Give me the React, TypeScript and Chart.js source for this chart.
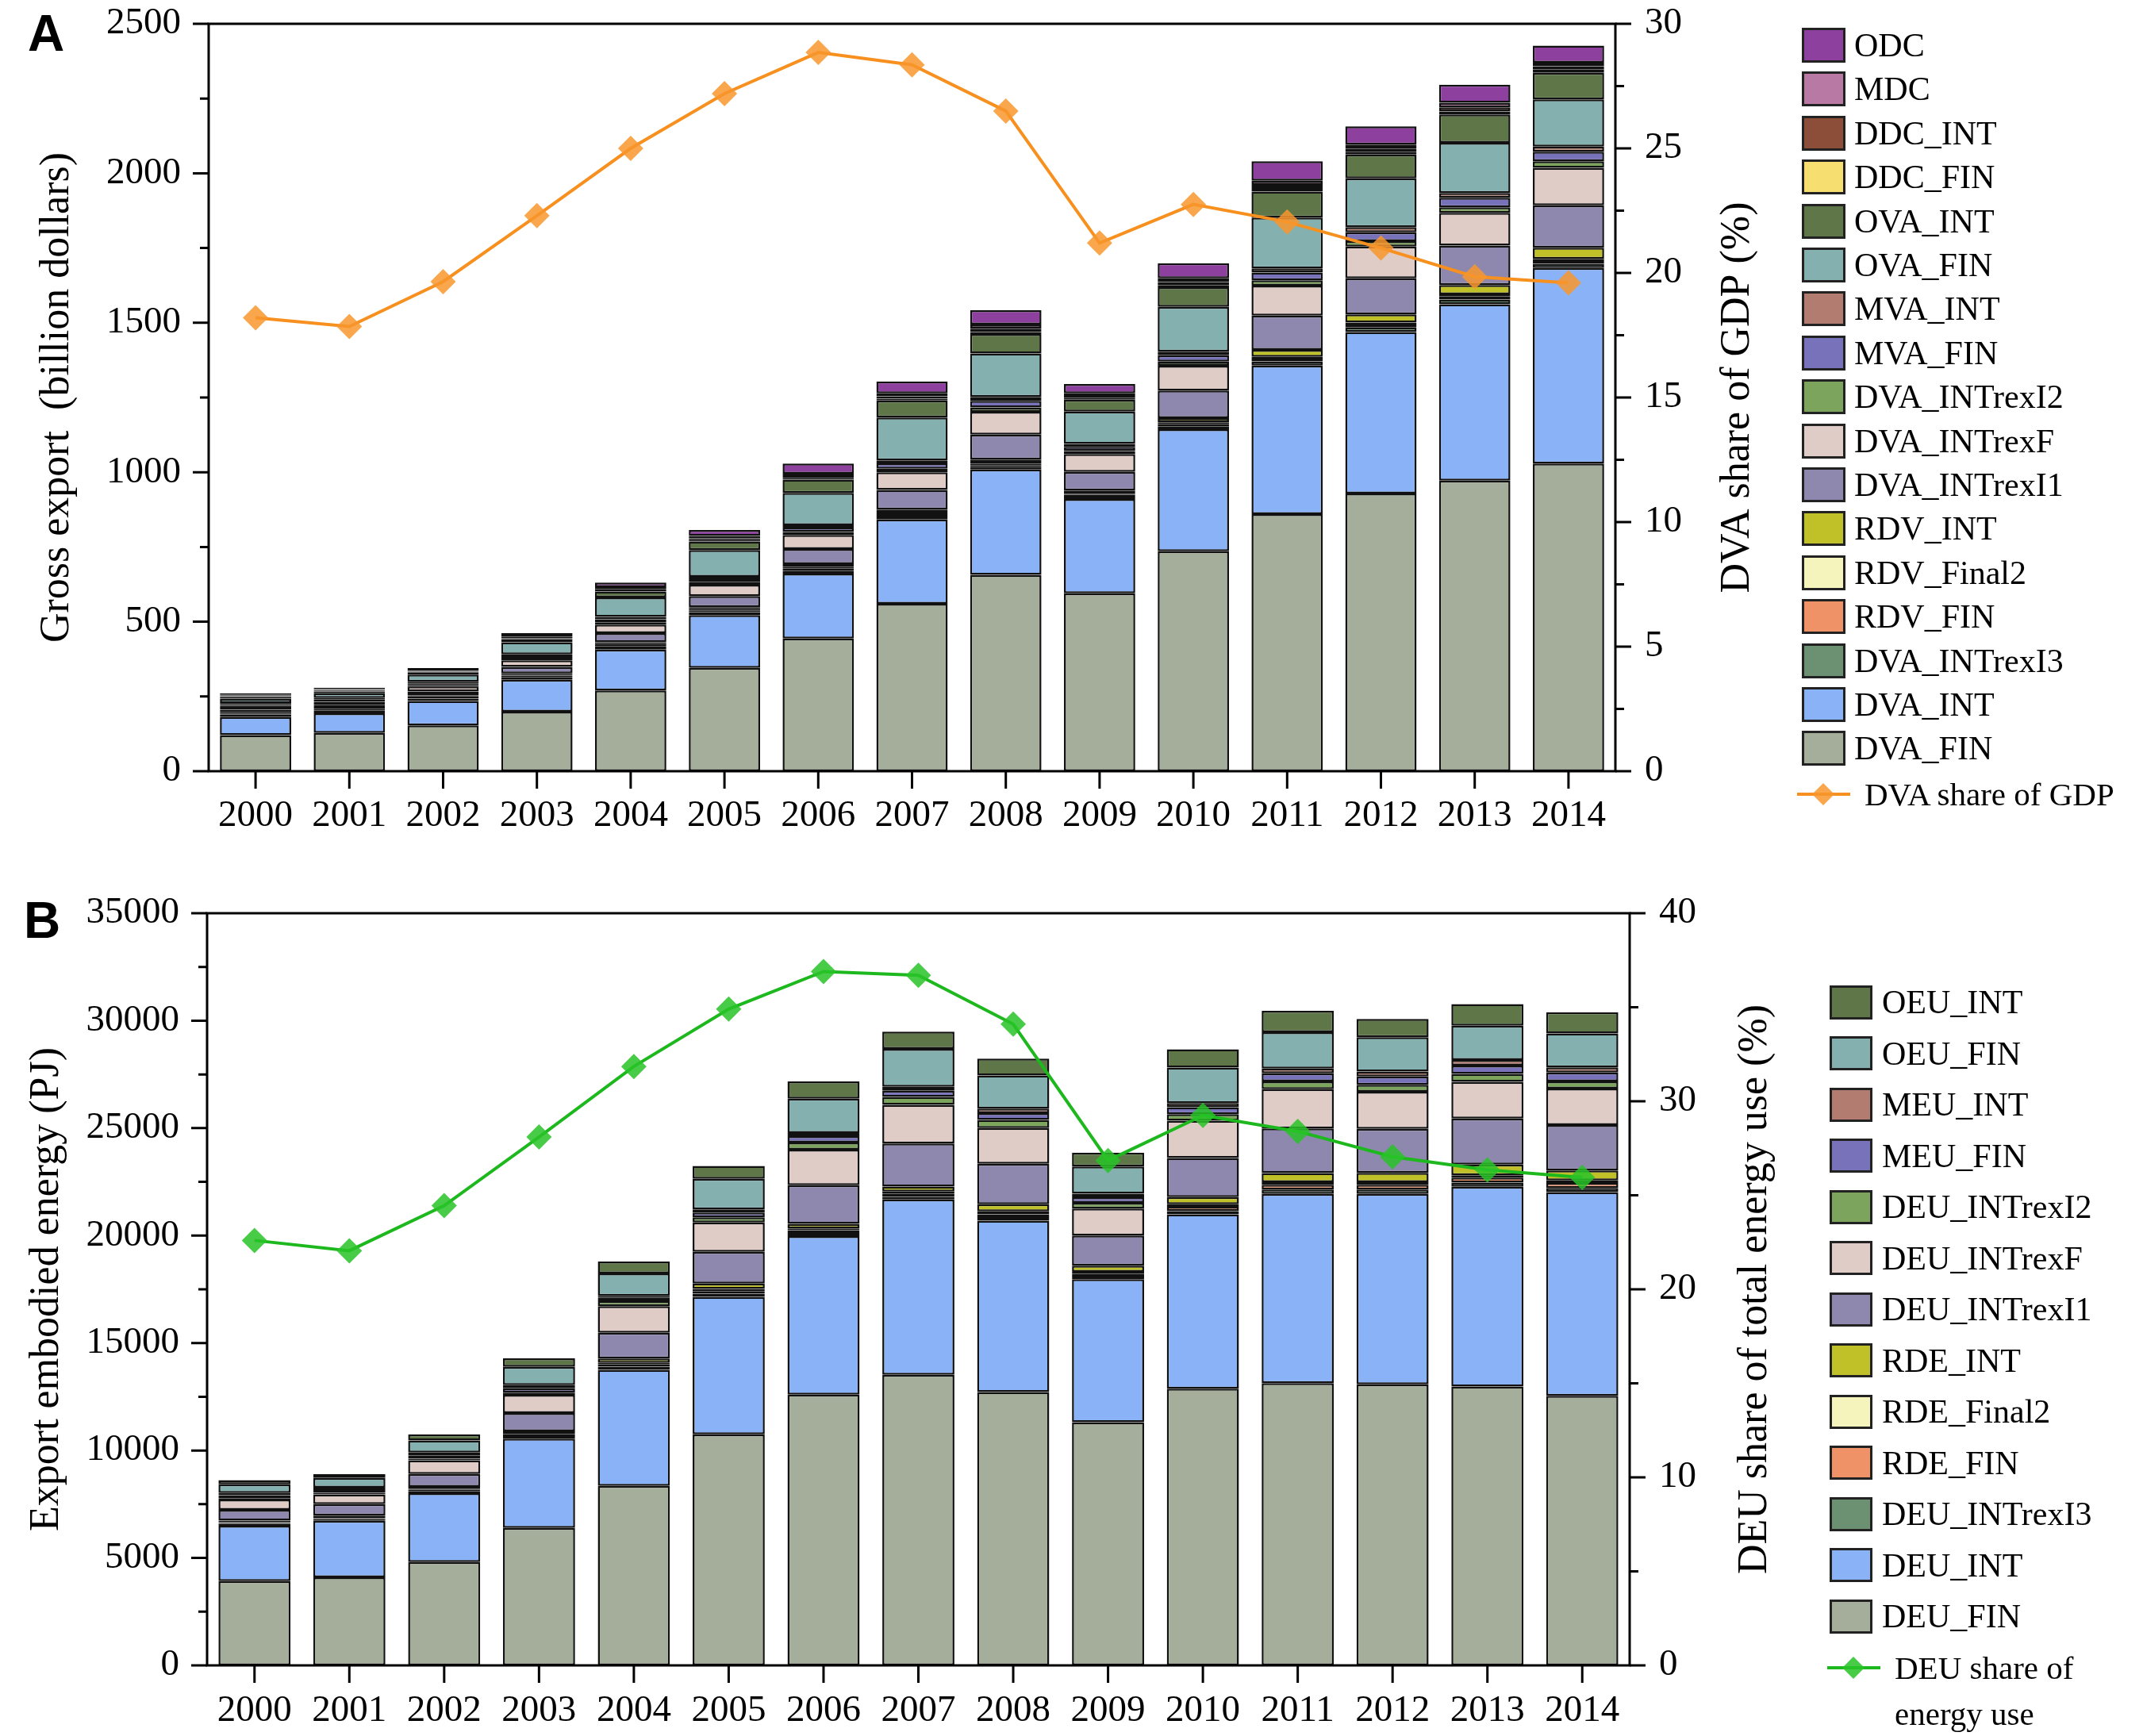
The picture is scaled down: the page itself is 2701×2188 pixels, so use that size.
import React, { useEffect, useRef } from 'react';
import { Chart, registerables } from 'chart.js';

Chart.register(...registerables);

const FONT = '"Liberation Serif", "Times New Roman", serif';

const years = ['2000', '2001', '2002', '2003', '2004', '2005', '2006', '2007', '2008', '2009', '2010', '2011', '2012', '2013', '2014'];

// ---------- Panel A (billion dollars) ----------
const dvaFin = [121, 128, 153, 199, 270, 346, 444, 560, 657, 595, 736, 860, 929, 972, 1029];
const dvaInt = [60, 66, 82, 107, 137, 176, 217, 282, 352, 315, 408, 497, 540, 590, 654];
const dvaIntrexI3 = [8, 10, 8, 8, 10, 10, 10, 10, 8, 8, 10, 14, 15, 16, 14];
const rdvFin = [3, 3, 4, 5, 5, 6, 8, 8, 7, 6, 8, 9, 10, 10, 12];
const rdvFinal2 = [2, 2, 3, 3, 3, 4, 5, 5, 5, 4, 5, 6, 7, 7, 5];
const rdvInt = [3, 3, 4, 5, 6, 7, 9, 10, 13, 11, 14, 23, 27, 31, 37];
const dvaIntrexI1 = [9, 10, 13, 22, 31, 37, 50, 66, 84, 62, 92, 115, 121, 132, 142];
const dvaIntrexF = [9, 10, 16, 22, 28, 38, 47, 59, 76, 60, 83, 100, 106, 110, 125];
const dvaIntrexI2 = [4, 4, 5, 6, 8, 8, 10, 12, 15, 10, 14, 18, 18, 18, 22];
const mvaFin = [5, 5, 6, 8, 10, 10, 15, 18, 22, 14, 21, 26, 30, 32, 32];
const mvaInt = [4, 4, 5, 6, 8, 8, 8, 10, 13, 10, 12, 14, 17, 16, 17];
const ovaFin = [15, 16, 24, 40, 65, 90, 108, 143, 145, 108, 150, 170, 163, 168, 158];
const ovaInt = [6, 6, 8, 11, 20, 28, 44, 57, 65, 40, 66, 87, 80, 95, 89];
const ddcFin = [2, 2, 2, 3, 4, 5, 5, 6, 7, 5, 7, 9, 8, 10, 11];
const ddcInt = [3, 3, 3, 4, 5, 6, 7, 8, 11, 7, 10, 13, 12, 14, 11];
const mdc = [3, 3, 4, 5, 6, 8, 8, 10, 14, 9, 13, 14, 13, 15, 12];
const odc = [4, 4, 5, 8, 15, 20, 34, 40, 48, 31, 50, 65, 61, 60, 57];
const dvaShareGdp = [18.2, 17.85, 19.65, 22.3, 25.0, 27.2, 28.85, 28.35, 26.5, 21.2, 22.75, 22.05, 21.0, 19.85, 19.6];

// ---------- Panel B (PJ) ----------
const deuFin = [3920, 4100, 4810, 6400, 8350, 10750, 12600, 13520, 12720, 11320, 12880, 13130, 13080, 12980, 12540];
const deuInt = [2580, 2630, 3200, 4150, 5400, 6400, 7370, 8160, 7970, 6650, 8110, 8810, 8860, 9290, 9480];
const deuIntrexI3 = [80, 80, 100, 80, 150, 150, 150, 120, 130, 120, 150, 200, 200, 200, 200];
const rdeFin = [50, 50, 60, 80, 100, 120, 130, 160, 170, 140, 200, 220, 220, 230, 230];
const rdeFinal2 = [40, 40, 50, 60, 80, 100, 80, 90, 140, 80, 120, 120, 120, 110, 120];
const rdeInt = [70, 70, 90, 120, 200, 250, 220, 230, 330, 290, 330, 430, 440, 500, 460];
const deuIntrexI1 = [500, 530, 600, 850, 1200, 1470, 1800, 2000, 1880, 1400, 1820, 2080, 2050, 2140, 2110];
const deuIntrexF = [475, 460, 630, 850, 1240, 1370, 1650, 1800, 1660, 1260, 1740, 1820, 1720, 1700, 1700];
const deuIntrexI2 = [70, 70, 80, 100, 230, 240, 330, 370, 380, 260, 300, 360, 330, 370, 330];
const meuFin = [130, 130, 150, 200, 150, 220, 300, 290, 320, 260, 320, 380, 380, 390, 420];
const meuInt = [110, 110, 130, 150, 100, 150, 140, 180, 210, 170, 200, 220, 230, 260, 240];
const oeuFin = [400, 450, 570, 850, 1040, 1420, 1600, 1770, 1540, 1260, 1650, 1690, 1600, 1600, 1580];
const oeuInt = [200, 180, 280, 400, 550, 600, 800, 800, 780, 650, 850, 1000, 850, 1000, 980];
const deuShareEnergy = [22.6, 22.05, 24.45, 28.1, 31.85, 34.9, 36.9, 36.7, 34.1, 26.85, 29.25, 28.4, 27.05, 26.35, 25.95];

type Series = { label: string; data: number[]; color: string };

const seriesA: Series[] = [
  { label: 'DVA_FIN', data: dvaFin, color: '#A4AE9A' },
  { label: 'DVA_INT', data: dvaInt, color: '#8AB2F6' },
  { label: 'DVA_INTrexI3', data: dvaIntrexI3, color: '#6C9072' },
  { label: 'RDV_FIN', data: rdvFin, color: '#F09268' },
  { label: 'RDV_Final2', data: rdvFinal2, color: '#F4F4BC' },
  { label: 'RDV_INT', data: rdvInt, color: '#C0C028' },
  { label: 'DVA_INTrexI1', data: dvaIntrexI1, color: '#8E88AE' },
  { label: 'DVA_INTrexF', data: dvaIntrexF, color: '#E0CCC6' },
  { label: 'DVA_INTrexI2', data: dvaIntrexI2, color: '#7CA45C' },
  { label: 'MVA_FIN', data: mvaFin, color: '#7872BA' },
  { label: 'MVA_INT', data: mvaInt, color: '#B27C70' },
  { label: 'OVA_FIN', data: ovaFin, color: '#84B0B0' },
  { label: 'OVA_INT', data: ovaInt, color: '#5E7648' },
  { label: 'DDC_FIN', data: ddcFin, color: '#F6DF70' },
  { label: 'DDC_INT', data: ddcInt, color: '#8C4E38' },
  { label: 'MDC', data: mdc, color: '#B87AA4' },
  { label: 'ODC', data: odc, color: '#8E409E' },
];

const seriesB: Series[] = [
  { label: 'DEU_FIN', data: deuFin, color: '#A4AE9A' },
  { label: 'DEU_INT', data: deuInt, color: '#8AB2F6' },
  { label: 'DEU_INTrexI3', data: deuIntrexI3, color: '#6C9072' },
  { label: 'RDE_FIN', data: rdeFin, color: '#F09268' },
  { label: 'RDE_Final2', data: rdeFinal2, color: '#F4F4BC' },
  { label: 'RDE_INT', data: rdeInt, color: '#C0C028' },
  { label: 'DEU_INTrexI1', data: deuIntrexI1, color: '#8E88AE' },
  { label: 'DEU_INTrexF', data: deuIntrexF, color: '#E0CCC6' },
  { label: 'DEU_INTrexI2', data: deuIntrexI2, color: '#7CA45C' },
  { label: 'MEU_FIN', data: meuFin, color: '#7872BA' },
  { label: 'MEU_INT', data: meuInt, color: '#B27C70' },
  { label: 'OEU_FIN', data: oeuFin, color: '#84B0B0' },
  { label: 'OEU_INT', data: oeuInt, color: '#5E7648' },
];

interface PanelSpec {
  series: Series[];
  lineLabel: string;
  lineData: number[];
  lineColor: string;
  pointColor: string;
  yMax: number;
  yStep: number;
  yMinor: number;
  y1Max: number;
  y1Step: number;
  y1Minor: number;
  leftTitle: string;
  leftTitlePad: number;
  leftWidth: number;
  rightTitle: string;
  rightTitleOffset: number;
  padTop: number;
  padRight: number;
  padBottom: number;
  xHeight: number;
  xPad: number;
  width: number;
  height: number;
}

const specA: PanelSpec = {
  series: seriesA,
  lineLabel: 'DVA share of GDP',
  lineData: dvaShareGdp,
  lineColor: '#F7901E',
  pointColor: 'rgba(248,150,45,0.85)',
  yMax: 2500, yStep: 500, yMinor: 250,
  y1Max: 30, y1Step: 5, y1Minor: 2.5,
  leftTitle: 'Gross export  (billion dollars)',
  leftTitlePad: 41, leftWidth: 263,
  rightTitle: 'DVA share of GDP (%)',
  rightTitleOffset: 154,
  padTop: 30, padRight: 475, padBottom: 18, xHeight: 100, xPad: 28,
  width: 2701, height: 1090,
};

const specB: PanelSpec = {
  series: seriesB,
  lineLabel: 'DEU share of energy use',
  lineData: deuShareEnergy,
  lineColor: '#1DB81D',
  pointColor: 'rgba(40,195,40,0.85)',
  yMax: 35000, yStep: 5000, yMinor: 2500,
  y1Max: 40, y1Step: 10, y1Minor: 5,
  leftTitle: 'Export embodied energy (PJ)',
  leftTitlePad: 28, leftWidth: 261,
  rightTitle: 'DEU share of total energy use (%)',
  rightTitleOffset: 158,
  padTop: 61, padRight: 457, padBottom: 9, xHeight: 80, xPad: 29,
  width: 2701, height: 1098,
};

function framePlugin(s: PanelSpec) {
  return {
    id: 'frameTicks',
    afterDraw(chart: any) {
      const { ctx, chartArea } = chart;
      const { left, right, top, bottom } = chartArea;
      const ys = chart.scales.y;
      const y1s = chart.scales.y1;
      const xs = chart.scales.x;
      ctx.save();
      ctx.strokeStyle = '#000';
      ctx.lineWidth = 3;
      ctx.lineCap = 'butt';
      ctx.beginPath();
      const nL = Math.round(s.yMax / s.yMinor);
      const perL = Math.round(s.yStep / s.yMinor);
      for (let i = 0; i <= nL; i++) {
        const py = ys.getPixelForValue(i * s.yMinor);
        const len = i % perL === 0 ? 20 : 11;
        ctx.moveTo(left - len, py);
        ctx.lineTo(left, py);
      }
      const nR = Math.round(s.y1Max / s.y1Minor);
      const perR = Math.round(s.y1Step / s.y1Minor);
      for (let i = 0; i <= nR; i++) {
        const py = y1s.getPixelForValue(i * s.y1Minor);
        const len = i % perR === 0 ? 20 : 11;
        ctx.moveTo(right, py);
        ctx.lineTo(right + len, py);
      }
      for (let i = 0; i < years.length; i++) {
        const px = xs.getPixelForValue(i);
        ctx.moveTo(px, bottom);
        ctx.lineTo(px, bottom + 22);
      }
      ctx.stroke();
      ctx.strokeRect(left, top, right - left, bottom - top);
      ctx.translate(right + s.rightTitleOffset, (top + bottom) / 2);
      ctx.rotate(-Math.PI / 2);
      ctx.font = `52px ${FONT}`;
      ctx.fillStyle = '#000';
      ctx.textAlign = 'center';
      ctx.textBaseline = 'middle';
      ctx.fillText(s.rightTitle, 0, 0);
      ctx.restore();
    },
  };
}

function buildConfig(s: PanelSpec): any {
  const datasets: any[] = s.series.map((ser) => ({
    type: 'bar',
    label: ser.label,
    data: ser.data,
    backgroundColor: ser.color,
    borderColor: '#111',
    borderWidth: 2.5,
    borderSkipped: false,
    barPercentage: 0.76,
    categoryPercentage: 1,
    yAxisID: 'y',
    stack: 'total',
    order: 1,
  }));
  datasets.push({
    type: 'line',
    label: s.lineLabel,
    data: s.lineData,
    yAxisID: 'y1',
    order: 0,
    borderColor: s.lineColor,
    borderWidth: 4,
    tension: 0,
    fill: false,
    pointStyle: 'rectRot',
    pointRadius: 16,
    pointBackgroundColor: s.pointColor,
    pointBorderWidth: 0,
  });
  const tickFont = { family: FONT, size: 47 };
  const noVPad = (sc: any) => {
    sc.paddingTop = 0;
    sc.paddingBottom = 0;
  };
  return {
    type: 'bar',
    data: { labels: years, datasets },
    options: {
      responsive: false,
      animation: false,
      devicePixelRatio: 1,
      events: [],
      layout: { padding: { left: 0, top: s.padTop, right: s.padRight, bottom: s.padBottom } },
      plugins: { legend: { display: false }, tooltip: { enabled: false } },
      scales: {
        x: {
          type: 'category',
          stacked: true,
          offset: true,
          grid: { display: false, drawTicks: false },
          border: { display: false },
          ticks: { color: '#000', font: tickFont, padding: s.xPad, maxRotation: 0, autoSkip: false },
          afterFit: (sc: any) => {
            sc.height = s.xHeight;
            sc.paddingLeft = 0;
            sc.paddingRight = 0;
          },
        },
        y: {
          type: 'linear',
          position: 'left',
          stacked: true,
          min: 0,
          max: s.yMax,
          grid: { display: false, drawTicks: false },
          border: { display: false },
          ticks: { stepSize: s.yStep, color: '#000', font: tickFont, padding: 35, callback: (v: any) => String(v) },
          title: {
            display: true,
            text: s.leftTitle,
            color: '#000',
            font: { family: FONT, size: 52 },
            padding: { top: s.leftTitlePad, bottom: 0 },
          },
          afterFit: (sc: any) => {
            sc.width = s.leftWidth;
            noVPad(sc);
          },
        },
        y1: {
          type: 'linear',
          position: 'right',
          min: 0,
          max: s.y1Max,
          grid: { display: false, drawTicks: false },
          border: { display: false },
          ticks: { stepSize: s.y1Step, color: '#000', font: tickFont, padding: 37, callback: (v: any) => String(v) },
          afterFit: (sc: any) => {
            sc.width = 190;
            noVPad(sc);
          },
        },
      },
    },
    plugins: [framePlugin(s)],
  };
}

function ChartCanvas({ spec, top }: { spec: PanelSpec; top: number }) {
  const ref = useRef<HTMLCanvasElement>(null);
  useEffect(() => {
    const canvas = ref.current;
    if (!canvas) return;
    const chart = new Chart(canvas, buildConfig(spec));
    let alive = true;
    const fonts: any = (document as any).fonts;
    if (fonts && fonts.load) {
      Promise.all([
        fonts.load(`47px ${FONT}`),
        fonts.load(`52px ${FONT}`),
      ]).then(() => {
        if (alive) chart.update();
      }).catch(() => {});
    }
    return () => {
      alive = false;
      chart.destroy();
    };
  }, [spec]);
  return (
    <canvas
      ref={ref}
      width={spec.width}
      height={spec.height}
      style={{ position: 'absolute', left: 0, top, width: spec.width, height: spec.height }}
    />
  );
}

interface LegendSpec {
  series: Series[];
  swLeft: number;
  swW: number;
  swH: number;
  y0: number;
  dy: number;
  textLeft: number;
  fontSize: number;
  lineY: number;
  lineLeft: number;
  lineColor: string;
  pointColor: string;
  lineTextLeft: number;
  lineText: string[];
  lineTextDy: number;
}

function Legend({ l }: { l: LegendSpec }) {
  const items = [...l.series].reverse();
  return (
    <>
      {items.map((it, i) => {
        const cy = l.y0 + i * l.dy;
        return (
          <React.Fragment key={it.label}>
            <div
              style={{
                position: 'absolute',
                left: l.swLeft,
                top: cy - l.swH / 2,
                width: l.swW,
                height: l.swH,
                boxSizing: 'border-box',
                border: '3px solid #222',
                background: it.color,
              }}
            />
            <div
              style={{
                position: 'absolute',
                left: l.textLeft,
                top: cy - 22,
                height: 44,
                lineHeight: '44px',
                fontSize: l.fontSize,
                fontFamily: FONT,
                color: '#000',
                whiteSpace: 'nowrap',
              }}
            >
              {it.label}
            </div>
          </React.Fragment>
        );
      })}
      <svg
        width={75}
        height={40}
        style={{ position: 'absolute', left: l.lineLeft, top: l.lineY - 20 }}
      >
        <line x1={3} y1={20} x2={70} y2={20} stroke={l.lineColor} strokeWidth={4} />
        <polygon points="36,6 50,20 36,34 22,20" fill={l.pointColor} />
      </svg>
      {l.lineText.map((t, i) => (
        <div
          key={t}
          style={{
            position: 'absolute',
            left: l.lineTextLeft,
            top: l.lineY - 22 + i * l.lineTextDy,
            height: 44,
            lineHeight: '44px',
            fontSize: 41,
            fontFamily: FONT,
            color: '#000',
            whiteSpace: 'nowrap',
          }}
        >
          {t}
        </div>
      ))}
    </>
  );
}

const legendA: LegendSpec = {
  series: seriesA,
  swLeft: 2271, swW: 55, swH: 44, y0: 57, dy: 55.4, textLeft: 2337, fontSize: 42,
  lineY: 1001, lineLeft: 2262, lineColor: '#F7901E', pointColor: 'rgba(248,150,45,0.85)',
  lineTextLeft: 2350, lineText: ['DVA share of GDP'], lineTextDy: 0,
};

const legendB: LegendSpec = {
  series: seriesB,
  swLeft: 2306, swW: 54, swH: 43, y0: 1263, dy: 64.5, textLeft: 2372, fontSize: 42,
  lineY: 2102, lineLeft: 2300, lineColor: '#1DB81D', pointColor: 'rgba(40,195,40,0.85)',
  lineTextLeft: 2388, lineText: ['DEU share of', 'energy use'], lineTextDy: 58,
};

export default function App() {
  useEffect(() => {
    document.body.style.margin = '0';
  }, []);
  return (
    <div style={{ position: 'relative', width: 2701, height: 2188, background: '#fff', overflow: 'hidden' }}>
      <ChartCanvas spec={specA} top={0} />
      <ChartCanvas spec={specB} top={1090} />
      <Legend l={legendA} />
      <Legend l={legendB} />
      <div
        style={{
          position: 'absolute', left: 35, top: 5, lineHeight: '64px',
          font: 'bold 64px "Liberation Sans", Arial, sans-serif', color: '#000',
        }}
      >
        A
      </div>
      <div
        style={{
          position: 'absolute', left: 30, top: 1123, lineHeight: '64px',
          font: 'bold 64px "Liberation Sans", Arial, sans-serif', color: '#000',
        }}
      >
        B
      </div>
    </div>
  );
}
